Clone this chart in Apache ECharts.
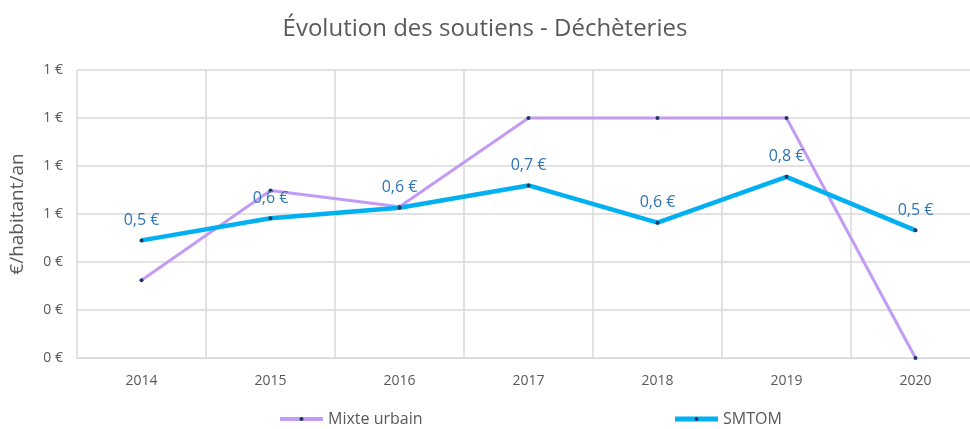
<!DOCTYPE html>
<html>
<head>
<meta charset="utf-8">
<script src="https://cdn.jsdelivr.net/npm/echarts@6/dist/echarts.min.js"></script>
<style>
  html, body { margin: 0; padding: 0; background: #fff; }
  #chart { width: 970px; height: 429px; }
</style>
</head>
<body>
<div id="chart"></div>
<script>
const years = ['2014', '2015', '2016', '2017', '2018', '2019', '2020']
const mixteUrbain = [0.324, 0.698, 0.63, 1.0, 1.0, 1.0, 0]
const smtom = [0.49, 0.582, 0.626, 0.719, 0.564, 0.755, 0.532]
const yTicks = [0, 0.2, 0.4, 0.6, 0.8, 1.0, 1.2]

const chart = echarts.init(document.getElementById('chart'))
const textColor = '#595959'
const gridColor = '#d9d9d9'

const option = {
  animation: false,
  textStyle: { fontFamily: 'Open Sans' },
  title: {
    text: 'Évolution des soutiens - Déchèteries',
    left: 'center',
    top: 12,
    textStyle: { fontSize: 24, fontWeight: 'normal', color: textColor, fontFamily: 'Open Sans' }
  },
  legend: {
    bottom: -3,
    left: 273,
    itemGap: 250,
    itemWidth: 43,
    itemHeight: 5,
    textStyle: { fontSize: 16, color: textColor },
    data: [
      { name: 'Mixte urbain', lineStyle: { width: 4 } },
      { name: 'SMTOM', lineStyle: { width: 5 } }
    ]
  },
  grid: { left: 77, right: -10, top: 70, bottom: 71, outerBoundsMode: 'none' },
  xAxis: {
    type: 'category',
    data: years,
    boundaryGap: true,
    axisLine: { lineStyle: { color: gridColor } },
    axisTick: { show: false },
    axisLabel: { color: textColor, fontSize: 14, margin: 16 },
    splitLine: { show: true, lineStyle: { color: gridColor, width: 1.5 } }
  },
  yAxis: {
    type: 'value',
    min: yTicks[0],
    max: yTicks[yTicks.length - 1],
    interval: 0.2,
    name: '€/habitant/an',
    nameLocation: 'middle',
    nameGap: 50,
    nameTextStyle: { color: textColor, fontSize: 19 },
    axisLine: { show: false },
    axisTick: { show: false },
    axisLabel: {
      color: textColor,
      fontSize: 14,
      margin: 14,
      formatter: v => Math.round(v) + ' €'
    },
    splitLine: { lineStyle: { color: gridColor, width: 1.5 } }
  },
  series: [
    {
      name: 'Mixte urbain',
      type: 'line',
      data: mixteUrbain,
      symbol: 'circle',
      symbolSize: 4,
      itemStyle: { color: '#1f3864' },
      lineStyle: { color: '#c39bf5', width: 3 },
      z: 2
    },
    {
      name: 'SMTOM',
      type: 'line',
      data: smtom,
      symbol: 'circle',
      symbolSize: 4,
      itemStyle: { color: '#1f3864' },
      lineStyle: { color: '#00b0f0', width: 4.5 },
      label: {
        show: true,
        position: 'top',
        distance: 10,
        color: '#2e75b6',
        fontSize: 16,
        formatter: p => p.value.toFixed(1).replace('.', ',') + ' €'
      },
      z: 3
    }
  ]
}

chart.setOption(option)
</script>
</body>
</html>
